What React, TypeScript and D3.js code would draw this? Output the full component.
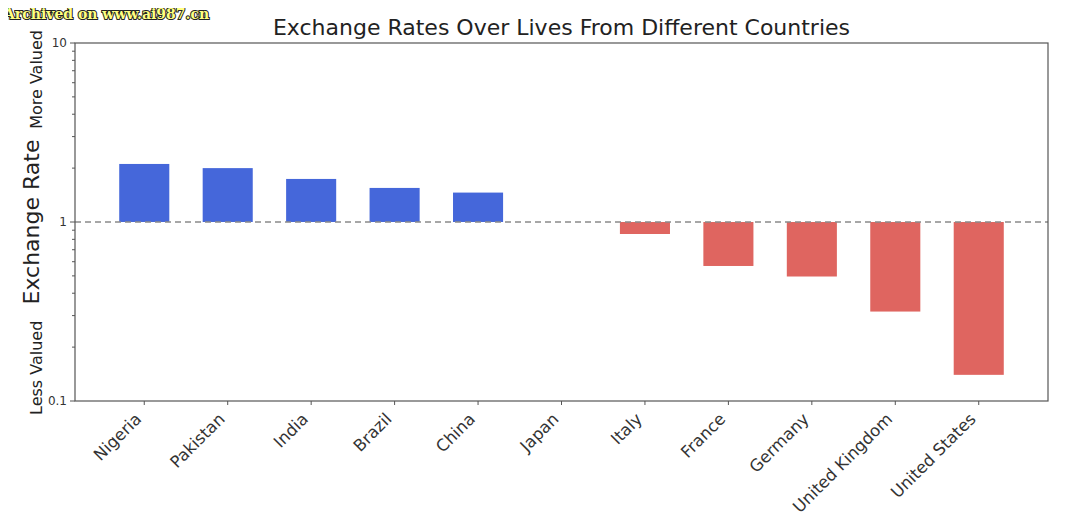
import React, { useEffect, useRef } from 'react';
import * as d3 from 'd3';

const countries = ['Nigeria', 'Pakistan', 'India', 'Brazil', 'China', 'Japan', 'Italy', 'France', 'Germany', 'United Kingdom', 'United States'];
const rates = [2.11, 2.0, 1.74, 1.55, 1.46, 1.0, 0.857, 0.568, 0.496, 0.316, 0.14];
const yTicks = [0.1, 1, 10];
const yTickLabels = ['0.1', '1', '10'];

const App: React.FC = () => {
  const ref = useRef<SVGSVGElement | null>(null);

  useEffect(() => {
    if (!ref.current) return;
    const svg = d3.select(ref.current);
    svg.selectAll('*').remove();

    const W = 1080, H = 524;
    const margin = { top: 43, right: 32, bottom: 123, left: 75 };
    const width = W - margin.left - margin.right;
    const height = H - margin.top - margin.bottom;
    const font = 'DejaVu Sans, sans-serif';

    // matplotlib-like bar layout: width 0.6, 5% margins
    const n = countries.length;
    const barW = 0.6;
    const lo = -barW / 2, hi = n - 1 + barW / 2;
    const pad = (hi - lo) * 0.05;
    const x = d3.scaleLinear().domain([lo - pad, hi + pad]).range([0, width]);
    const y = d3.scaleLog().domain([0.1, 10]).range([height, 0]);

    const g = svg.append('g').attr('transform', `translate(${margin.left},${margin.top})`);

    // bars
    g.selectAll('rect.bar')
      .data(rates)
      .enter()
      .append('rect')
      .attr('class', 'bar')
      .attr('x', (_, i) => x(i - barW / 2))
      .attr('width', x(barW) - x(0))
      .attr('y', d => Math.min(y(d), y(1)))
      .attr('height', d => Math.abs(y(d) - y(1)))
      .attr('fill', d => (d >= 1 ? '#4567da' : '#df6560'));

    // reference line at 1
    g.append('line')
      .attr('x1', 0)
      .attr('x2', width)
      .attr('y1', y(1))
      .attr('y2', y(1))
      .attr('stroke', '#8a8a8a')
      .attr('stroke-width', 1.5)
      .attr('stroke-dasharray', '6,4');

    // frame
    g.append('rect')
      .attr('width', width)
      .attr('height', height)
      .attr('fill', 'none')
      .attr('stroke', '#555')
      .attr('stroke-width', 1.2);

    // y ticks
    const minor: number[] = [];
    [0.1, 1].forEach(b => d3.range(2, 10).forEach(k => minor.push(b * k)));
    g.selectAll('line.minor')
      .data(minor)
      .enter()
      .append('line')
      .attr('x1', -3)
      .attr('x2', 0)
      .attr('y1', d => y(d))
      .attr('y2', d => y(d))
      .attr('stroke', '#555');
    g.selectAll('line.major')
      .data(yTicks)
      .enter()
      .append('line')
      .attr('x1', -5)
      .attr('x2', 0)
      .attr('y1', d => y(d))
      .attr('y2', d => y(d))
      .attr('stroke', '#555');
    g.selectAll('text.ytick')
      .data(yTicks)
      .enter()
      .append('text')
      .attr('x', -8)
      .attr('y', d => y(d))
      .attr('dy', '0.35em')
      .attr('text-anchor', 'end')
      .style('font-family', font)
      .style('font-size', '12px')
      .attr('fill', '#333')
      .text((_, i) => yTickLabels[i]);

    // x ticks and labels
    g.selectAll('line.xtick')
      .data(countries)
      .enter()
      .append('line')
      .attr('x1', (_, i) => x(i))
      .attr('x2', (_, i) => x(i))
      .attr('y1', height)
      .attr('y2', height + 4)
      .attr('stroke', '#555');
    g.selectAll('text.xlab')
      .data(countries)
      .enter()
      .append('text')
      .attr('transform', (_, i) => `translate(${x(i) - 6},${height + 15}) rotate(-45)`)
      .attr('text-anchor', 'end')
      .attr('dy', '0.35em')
      .style('font-family', font)
      .style('font-size', '16.5px')
      .attr('fill', '#333')
      .text(d => d);

    // y axis labels
    svg.append('text')
      .attr('transform', `translate(39,${margin.top + y(1)}) rotate(-90)`)
      .attr('text-anchor', 'middle')
      .style('font-family', font)
      .style('font-size', '22px')
      .attr('fill', '#222')
      .text('Exchange Rate');
    svg.append('text')
      .attr('transform', `translate(42,${margin.top + y(0.1) + 14}) rotate(-90)`)
      .attr('text-anchor', 'start')
      .style('font-family', font)
      .style('font-size', '16px')
      .attr('fill', '#222')
      .text('Less Valued');
    svg.append('text')
      .attr('transform', `translate(42,${margin.top + y(10) - 13}) rotate(-90)`)
      .attr('text-anchor', 'end')
      .style('font-family', font)
      .style('font-size', '16px')
      .attr('fill', '#222')
      .text('More Valued');

    // title
    svg.append('text')
      .attr('x', margin.left + width / 2)
      .attr('y', 35)
      .attr('text-anchor', 'middle')
      .style('font-family', font)
      .style('font-size', '22px')
      .attr('fill', '#222')
      .text('Exchange Rates Over Lives From Different Countries');

    // archive watermark
    svg.append('text')
      .attr('x', 4)
      .attr('y', 19)
      .style('font-family', 'DejaVu Serif, serif')
      .style('font-size', '14px')
      .style('font-weight', 'bold')
      .attr('fill', '#ffff80')
      .attr('stroke', '#222')
      .attr('stroke-width', 2)
      .attr('paint-order', 'stroke')
      .text('Archived on www.ai987.cn');
  }, []);

  return (
    <div style={{ width: 1080, height: 524, margin: -8, background: '#fff' }}>
      <svg ref={ref} width={1080} height={524} style={{ display: 'block' }} />
    </div>
  );
};

export default App;
